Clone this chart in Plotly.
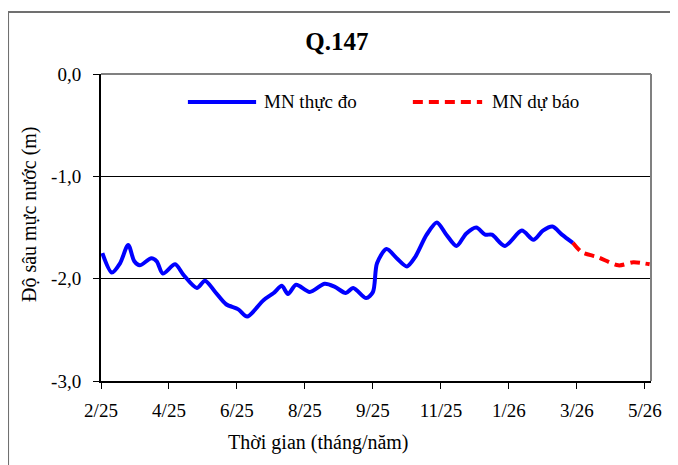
import plotly.graph_objects as go

# position along the category axis (0 = 2/25 ... 8 = 5/26) and depth (m)
obs_x = [0.02, 0.16, 0.28, 0.40, 0.49, 0.57, 0.74, 0.82, 0.91, 1.09,
         1.21, 1.41, 1.53, 1.68, 1.84, 2.02, 2.15, 2.39, 2.54, 2.66,
         2.75, 2.87, 3.07, 3.29, 3.44, 3.60, 3.71, 3.90, 4.00, 4.06,
         4.20, 4.35, 4.50, 4.62, 4.79, 4.94, 5.08, 5.23, 5.37, 5.52,
         5.65, 5.75, 5.94, 6.19, 6.36, 6.50, 6.64, 6.78, 6.94]
obs_y = [-1.75, -1.94, -1.85, -1.67, -1.83, -1.87, -1.80, -1.83, -1.95, -1.86,
         -1.96, -2.09, -2.02, -2.13, -2.25, -2.30, -2.37, -2.21, -2.14, -2.07,
         -2.15, -2.06, -2.13, -2.05, -2.08, -2.14, -2.09, -2.19, -2.13, -1.85,
         -1.71, -1.80, -1.88, -1.79, -1.57, -1.45, -1.57, -1.68, -1.56, -1.50,
         -1.57, -1.57, -1.68, -1.53, -1.62, -1.53, -1.49, -1.57, -1.65]

fc_x = [6.94, 7.07, 7.31, 7.61, 7.83, 8.07]
fc_y = [-1.65, -1.74, -1.79, -1.87, -1.84, -1.86]

tick_labels = ["2/25", "4/25", "6/25", "8/25", "9/25", "11/25", "1/26", "3/26", "5/26"]
y_ticks = [0, -1, -2, -3]
y_tick_text = ["0,0", "-1,0", "-2,0", "-3,0"]

FONT = "Liberation Serif"

fig = go.Figure()
fig.add_trace(go.Scatter(x=obs_x, y=obs_y, mode="lines", name="MN thực đo",
                         line=dict(color="#0000ff", width=4, shape="spline", smoothing=0.8),
                         showlegend=False))
fig.add_trace(go.Scatter(x=fc_x, y=fc_y, mode="lines", name="MN dự báo",
                         line=dict(color="#ff0000", width=4, dash="10px,6px",
                                   shape="spline", smoothing=0.8),
                         showlegend=False))

# page body adds ~8px offset, margins compensate for it
fig.update_layout(
    width=678, height=465,
    margin=dict(l=93, r=35, t=66, b=92, autoexpand=False),
    paper_bgcolor="white", plot_bgcolor="white",
    font=dict(family=FONT, size=19, color="black"),
    title=dict(text="<b>Q.147</b>", x=0.485, y=0.929, xanchor="center", yanchor="middle",
               font=dict(family=FONT, size=25, color="black")),
)

fig.update_xaxes(
    range=[0, 8.09], tickvals=list(range(len(tick_labels))), ticktext=tick_labels,
    showgrid=False, zeroline=False, showline=True, linecolor="black", linewidth=2,
    ticks="outside", ticklen=6, tickcolor="black", tickwidth=1, ticklabelstandoff=5,
)
fig.update_yaxes(
    range=[-3, 0], tickvals=y_ticks, ticktext=y_tick_text,
    showgrid=True, gridcolor="black", gridwidth=1, zeroline=False,
    showline=True, linecolor="black", linewidth=2,
    ticks="outside", ticklen=6, tickcolor="black", tickwidth=1, ticklabelstandoff=8,
)

# gray top/right plot border and outer chart frame
fig.add_shape(type="line", xref="paper", yref="paper", x0=0, x1=1, y0=1, y1=1,
              line=dict(color="#808080", width=2), layer="above")
fig.add_shape(type="line", xref="paper", yref="paper", x0=1, x1=1, y0=0, y1=1,
              line=dict(color="#808080", width=2), layer="above")
fig.add_shape(type="rect", xref="paper", yref="paper", x0=-0.169, x1=1.1, y0=-0.35, y1=1.202,
              line=dict(color="#707070", width=2), layer="above")

# legend drawn inside the plot
fig.add_shape(type="line", xref="paper", yref="paper", x0=0.158, x1=0.282, y0=0.909, y1=0.909,
              line=dict(color="#0000ff", width=4))
fig.add_shape(type="line", xref="paper", yref="paper", x0=0.567, x1=0.693, y0=0.909, y1=0.909,
              line=dict(color="#ff0000", width=4, dash="10px,6px"))
fig.add_annotation(x=0.293, y=0.909, xref="paper", yref="paper", text="MN thực đo",
                   showarrow=False, xanchor="left", yanchor="middle", font=dict(size=19))
fig.add_annotation(x=0.707, y=0.909, xref="paper", yref="paper", text="MN dự báo",
                   showarrow=False, xanchor="left", yanchor="middle", font=dict(size=19))

# axis titles
fig.add_annotation(x=0.395, y=-0.199, xref="paper", yref="paper", text="Thời gian (tháng/năm)",
                   showarrow=False, xanchor="center", yanchor="middle", font=dict(size=20))
fig.add_annotation(x=-0.129, y=0.544, xref="paper", yref="paper", text="Độ sâu mực nước (m)",
                   showarrow=False, textangle=-90, xanchor="center", yanchor="middle",
                   font=dict(size=20))

fig.write_html("out.html")
